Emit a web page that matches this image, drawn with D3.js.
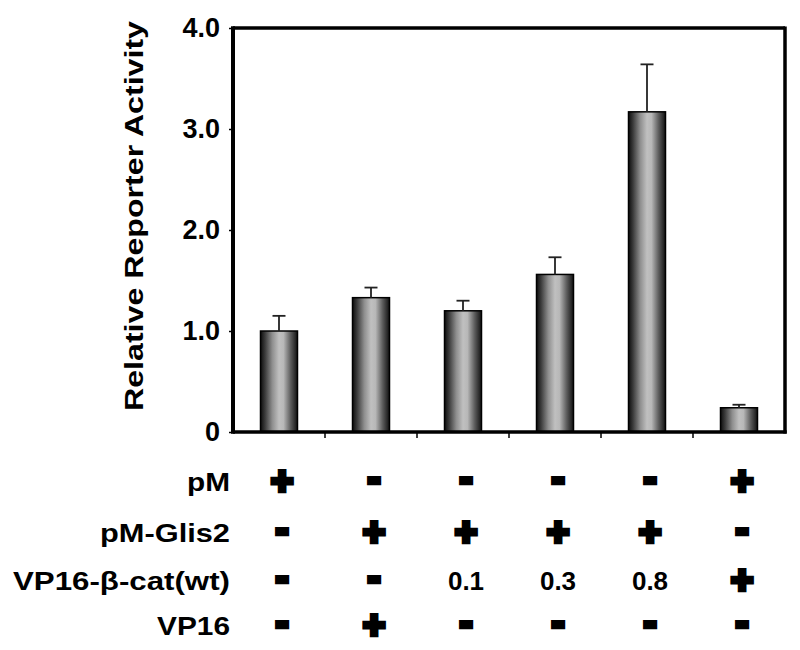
<!DOCTYPE html>
<html>
<head>
<meta charset="utf-8">
<script src="https://cdn.jsdelivr.net/npm/d3@7"></script>
<style>
  body { margin: 0; background: #fff; }
  text { font-family: "Liberation Sans", Arial, Helvetica, sans-serif; font-weight: bold; fill: #000; }
</style>
</head>
<body>
<svg id="chart" width="800" height="650"></svg>
<script>
// ---- data ----
const conditions = ["c1", "c2", "c3", "c4", "c5", "c6"];
const values = [1.00, 1.33, 1.20, 1.56, 3.17, 0.24];
const errors = [0.15, 0.10, 0.10, 0.17, 0.47, 0.03];
const yTickValues = [0, 1, 2, 3, 4];
const yTickLabels = ["0", "1.0", "2.0", "3.0", "4.0"];
const yTitle = "Relative Reporter Activity";
const rowLabels = ["pM", "pM-Glis2", "VP16-\u03B2-cat(wt)", "VP16"];
const rowPM = ["+", "-", "-", "-", "-", "+"];
const rowGlis2 = ["-", "+", "+", "+", "+", "-"];
const rowBcat = ["-", "-", "0.1", "0.3", "0.8", "+"];
const rowVP16 = ["-", "+", "-", "-", "-", "-"];
const rows = [rowPM, rowGlis2, rowBcat, rowVP16];

// ---- layout ----
const svg = d3.select("#chart");
const plot = { left: 233, right: 785, top: 28, bottom: 432 };
const labelWidths = [43, 130, 217, 73];   // rendered widths of the row labels
const titleLength = 390;

const x = d3.scaleBand().domain(conditions).range([plot.left, plot.right]).paddingInner(0).paddingOuter(0);
const y = d3.scaleLinear().domain([0, 4]).range([plot.bottom, plot.top]);

// gradient
const defs = svg.append("defs");
const grad = defs.append("linearGradient").attr("id", "barGrad").attr("x1", "0").attr("x2", "1").attr("y1", "0").attr("y2", "0");
[[0, "#0d0d0d"], [0.12, "#3a3a3a"], [0.32, "#8f8f8f"], [0.5, "#c0c0c0"], [0.62, "#b8b8b8"], [0.82, "#5a5a5a"], [1, "#111"]]
  .forEach(([o, c]) => grad.append("stop").attr("offset", o).attr("stop-color", c));

const barW = 37;

// bars
svg.append("g").selectAll("rect").data(conditions).join("rect")
  .attr("x", d => x(d) + x.bandwidth() / 2 - barW / 2)
  .attr("width", barW)
  .attr("y", (d, i) => y(values[i]))
  .attr("height", (d, i) => y(0) - y(values[i]))
  .attr("fill", "url(#barGrad)")
  .attr("stroke", "#000")
  .attr("stroke-width", 1.5);

// error bars
const eg = svg.append("g").attr("stroke", "#222").attr("stroke-width", 1.8);
conditions.forEach((d, i) => {
  const cx = x(d) + x.bandwidth() / 2;
  eg.append("line").attr("x1", cx).attr("x2", cx).attr("y1", y(values[i])).attr("y2", y(values[i] + errors[i]));
  eg.append("line").attr("x1", cx - 6.5).attr("x2", cx + 6.5).attr("y1", y(values[i] + errors[i])).attr("y2", y(values[i] + errors[i]));
});

// y axis
const yAxis = d3.axisLeft(y).tickValues(yTickValues).tickFormat((d, i) => yTickLabels[i]).tickSize(4).tickPadding(9);
const gy = svg.append("g").attr("transform", `translate(${plot.left},0)`).call(yAxis);
gy.select(".domain").remove();
gy.selectAll(".tick line").attr("stroke", "#000").attr("stroke-width", 1.5);
gy.selectAll(".tick text").attr("font-size", 27).attr("font-family", '"Liberation Sans", Arial, sans-serif').attr("font-weight", "bold").attr("fill", "#000");

// x axis ticks at band boundaries
const boundaries = conditions.slice(1).map(d => x(d));
svg.append("g").selectAll("line").data(boundaries).join("line")
  .attr("x1", d => d).attr("x2", d => d)
  .attr("y1", plot.bottom).attr("y2", plot.bottom + 6)
  .attr("stroke", "#000").attr("stroke-width", 1.5);

// frame
svg.append("line").attr("x1", plot.left).attr("x2", plot.right).attr("y1", plot.top).attr("y2", plot.top).attr("stroke", "#000").attr("stroke-width", 3.5);
svg.append("line").attr("x1", plot.right).attr("x2", plot.right).attr("y1", plot.top - 1.5).attr("y2", plot.bottom + 1.5).attr("stroke", "#000").attr("stroke-width", 3.5);
svg.append("line").attr("x1", plot.left).attr("x2", plot.right + 1.7).attr("y1", plot.bottom).attr("y2", plot.bottom).attr("stroke", "#000").attr("stroke-width", 3.5);
svg.append("line").attr("x1", plot.left).attr("x2", plot.left).attr("y1", plot.top - 1.7).attr("y2", plot.bottom + 1.7).attr("stroke", "#000").attr("stroke-width", 4);

// y title
svg.append("text")
  .attr("transform", `translate(143, 216) rotate(-90)`)
  .attr("x", -titleLength / 2)
  .attr("font-size", 26)
  .attr("textLength", titleLength)
  .attr("lengthAdjust", "spacingAndGlyphs")
  .text(yTitle);

// condition table
const rowCenters = [481, 532, 580, 625];
const labelRight = 230;
rowLabels.forEach((lab, r) => {
  svg.append("text")
    .attr("x", labelRight - labelWidths[r]).attr("y", rowCenters[r] + 9.5)
    .attr("font-size", 26)
    .attr("textLength", labelWidths[r])
    .attr("lengthAdjust", "spacingAndGlyphs")
    .text(lab);
});

const symFont = 38;
rows.forEach((row, r) => {
  row.forEach((sym, i) => {
    const cx = x(conditions[i]) + x.bandwidth() / 2 + 3;
    const cy = rowCenters[r];
    if (sym === "+" || sym === "-") {
      const off = sym === "+" ? 0.34 : 0.26;
      svg.append("text").attr("x", cx).attr("y", cy + off * symFont)
        .attr("text-anchor", "middle").attr("font-size", symFont)
        .attr("stroke", "#000").attr("stroke-width", 4.5)
        .text(sym);
    } else {
      svg.append("text").attr("x", cx).attr("y", cy + 9.5)
        .attr("text-anchor", "middle").attr("font-size", 26)
        .text(sym);
    }
  });
});
</script>
</body>
</html>
